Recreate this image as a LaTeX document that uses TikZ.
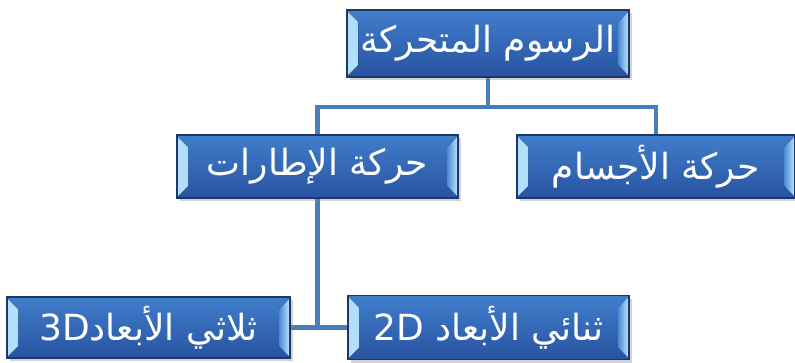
\documentclass[tikz,border=0pt]{standalone}
\usepackage{fontspec}
\newfontfamily\arabicfont[Script=Arabic]{DejaVu Sans}
\TeXXeTstate=1
\usetikzlibrary{shadows,backgrounds}
\definecolor{boxtop}{HTML}{407ECC}
\definecolor{boxbot}{HTML}{2853A0}
\definecolor{boxedge}{HTML}{1C3768}
\definecolor{bevlight}{HTML}{B4E0FA}
\definecolor{bevdark}{HTML}{4A88D4}
\definecolor{linkcol}{HTML}{4A7EBB}
\tikzset{
  box/.style={rectangle, draw=boxedge, line width=1.2pt,
    top color=boxtop, bottom color=boxbot,
    text=white, font=\arabicfont\fontsize{36}{40}\selectfont,
    inner sep=0pt,
    drop shadow={shadow xshift=3pt, shadow yshift=-3pt, opacity=0.35},
    path picture={
      \fill[left color=bevlight, right color=bevdark]
        ([xshift=1pt,yshift=-2pt]path picture bounding box.north west) --
        ([xshift=11pt,yshift=-12pt]path picture bounding box.north west) --
        ([xshift=11pt,yshift=12pt]path picture bounding box.south west) --
        ([xshift=1pt,yshift=2pt]path picture bounding box.south west) -- cycle;
      \fill[right color=bevlight, left color=bevdark]
        ([xshift=-1pt,yshift=-2pt]path picture bounding box.north east) --
        ([xshift=-11pt,yshift=-12pt]path picture bounding box.north east) --
        ([xshift=-11pt,yshift=12pt]path picture bounding box.south east) --
        ([xshift=-1pt,yshift=2pt]path picture bounding box.south east) -- cycle;
    }},
  link/.style={draw=linkcol, line width=4.5pt}
}
\begin{document}
\begin{tikzpicture}[x=1pt,y=-1pt]
\useasboundingbox (0,0) rectangle (795,362);
\node[box, minimum width=282pt, minimum height=67pt] (top) at (488,43.5)
  {\beginR الرسوم المتحركة\endR};
\node[box, minimum width=281pt, minimum height=63pt] (midL) at (317.5,166.5)
  {\beginR حركة الإطارات\endR};
\node[box, minimum width=278pt, minimum height=63pt] (midR) at (656,166.5)
  {\beginR حركة الأجسام\endR};
\node[box, minimum width=283pt, minimum height=61pt] (botL) at (148.5,327.5)
  {\beginR ثلاثي الأبعاد\beginL 3D\endL\endR};
\node[box, minimum width=281pt, minimum height=64pt] (botR) at (488.5,327.5)
  {\beginR ثنائي الأبعاد \beginL 2D\endL\endR};
\coordinate (hub) at (top.south |- 0,107);
\begin{scope}[on background layer]
  \draw[link] (top.south) -- (hub);
  \draw[link] (midL.north) |- (hub) -| (midR.north);
  \draw[link] (midL.south) |- (botR.west);
  \draw[link] (botL.east) -- (botR.west);
\end{scope}
\end{tikzpicture}
\end{document}
